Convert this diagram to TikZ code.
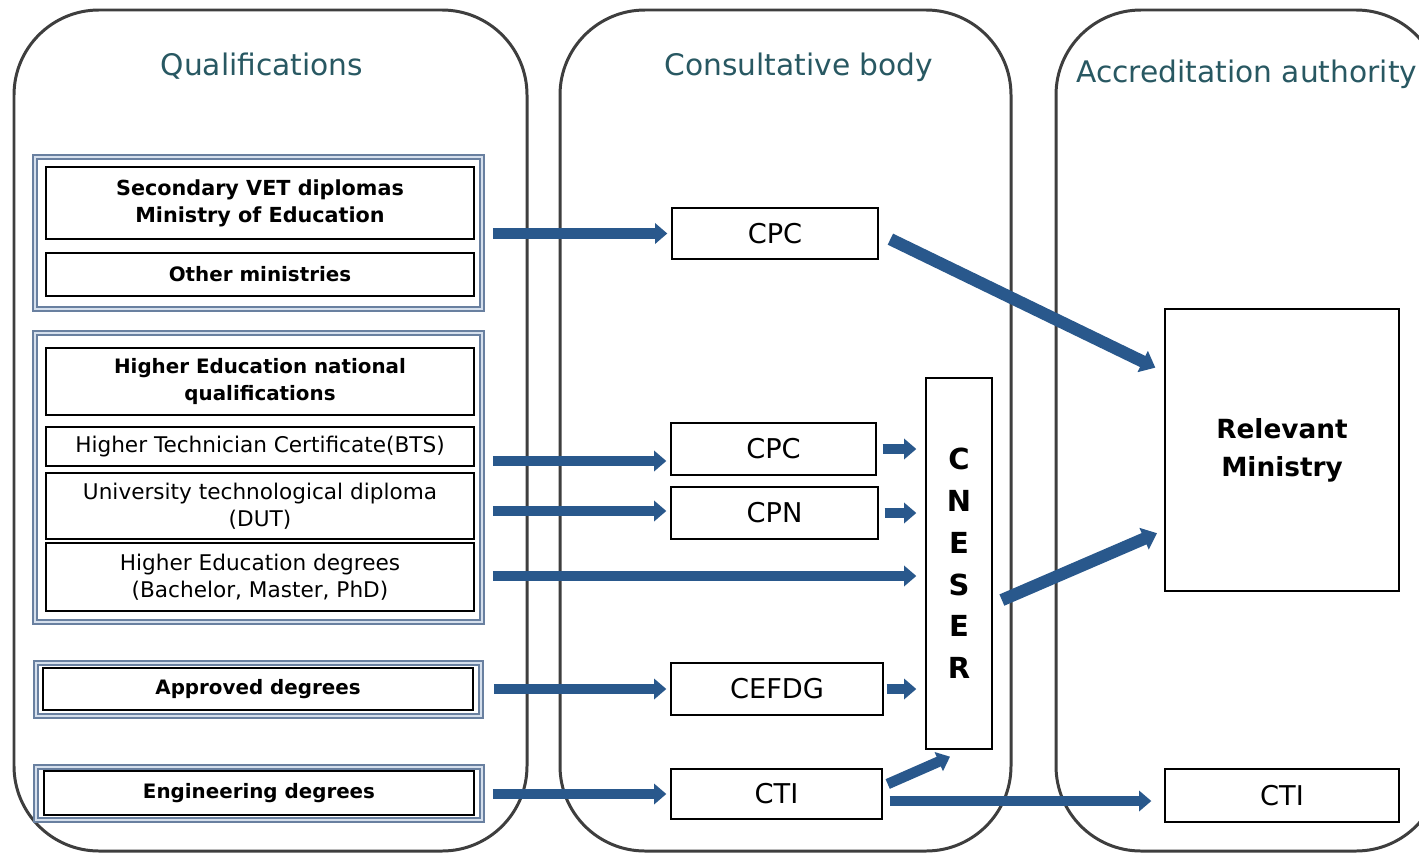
\documentclass[tikz,border=0pt]{standalone}
\usepackage{fontspec}
\setmainfont{DejaVu Sans}
\usepackage{xcolor}
\usepackage{tikz}
\usetikzlibrary{positioning, arrows.meta}
\usetikzlibrary{calc}
\definecolor{panelgrey}{RGB}{62,62,62}
\definecolor{headteal}{RGB}{40,88,98}
\definecolor{grpblue}{RGB}{105,128,160}
\definecolor{grplight}{RGB}{214,224,237}
\definecolor{arrowblue}{RGB}{41,88,140}
\tikzstyle{panel} = [draw=panelgrey, line width=1.7pt, rounded corners=1.7cm]
\tikzstyle{heading} = [inner sep=0pt, text=headteal, font=\fontsize{16.9}{20}\selectfont]
\tikzstyle{grp} = [rectangle, draw=grpblue, double=grplight, double distance=1.2pt, line width=0.9pt, fill=white]
\tikzstyle{qualb} = [rectangle, draw=black, line width=0.8pt, fill=white, minimum width=8.56cm, align=center, font=\bfseries\fontsize{11.3}{15.3}\selectfont]
\tikzstyle{qualr} = [rectangle, draw=black, line width=0.8pt, fill=white, minimum width=8.56cm, align=center, font=\fontsize{12.3}{15.3}\selectfont]
\tikzstyle{body} = [rectangle, draw=black, line width=0.8pt, fill=white, font=\fontsize{15.5}{18}\selectfont]
\tikzstyle{arrow} = [line width=6pt, draw=arrowblue, -{Triangle[width=11.5pt,length=7pt]}, shorten <=0.2cm, shorten >=0.08cm]
\tikzstyle{slant} = [arrow, line width=7pt, -{Triangle[width=13pt,length=8pt]}]

\begin{document}
\begin{tikzpicture}[x=0.02cm, y=-0.02cm]
	\useasboundingbox (0,0) rectangle (1419,852);
	\clip (0,0) rectangle (1419,852);
	\fill [white] (0,0) rectangle (1419,852);
	% the three columns
	\draw [panel] (14,10) rectangle (527,851);
	\draw [panel] (560,10) rectangle (1011,851);
	\draw [panel] (1056,10) rectangle (1441,851);
	\node (tqual) [heading, anchor=base] at (262,75) {Qualifications};
	\node (tcons) [heading, anchor=base] at (799,75) {Consultative body};
	\node (taccr) [heading, anchor=base west] at (1076,82) {Accreditation authority};
	% qualifications
	\node (grpA) [grp, minimum width=8.94cm, minimum height=3.04cm] at (258.5,233) {};
	\node (secvet) [qualb, minimum height=1.44cm, font=\bfseries\fontsize{11.8}{15.3}\selectfont] at (260,203) {Secondary VET diplomas\\Ministry of Education};
	\node (othmin) [qualb, minimum height=0.86cm] at (260,274.5) {Other ministries};
	\node (grpB) [grp, minimum width=8.94cm, minimum height=5.78cm] at (258.5,477.5) {};
	\node (henat) [qualb, minimum height=1.34cm] at (260,381.5) {Higher Education national\\qualifications};
	\node (bts) [qualr, minimum height=0.78cm] at (260,446.5) {Higher Technician Certificate(BTS)};
	\node (dut) [qualr, minimum height=1.32cm] at (260,506) {University technological diploma\\(DUT)};
	\node (hedeg) [qualr, minimum height=1.36cm] at (260,577) {Higher Education degrees\\(Bachelor, Master, PhD)};
	\node (grpC) [grp, minimum width=8.9cm, minimum height=1.06cm] at (258.5,689.5) {};
	\node (apprdeg) [qualb, minimum width=8.6cm, minimum height=0.84cm] at (258,689) {Approved degrees};
	\node (grpD) [grp, minimum width=8.92cm, minimum height=1.06cm] at (259,793.5) {};
	\node (engdeg) [qualb, minimum width=8.6cm, minimum height=0.88cm] at (259,793) {Engineering degrees};
	% consultative bodies
	\node (cpc1) [body, minimum width=4.12cm, minimum height=1.02cm] at (775,233.5) {CPC};
	\node (cpc2) [body, minimum width=4.1cm, minimum height=1.04cm] at (773.5,449) {CPC};
	\node (cpn) [body, minimum width=4.14cm, minimum height=1.04cm] at (774.5,513) {CPN};
	\node (cefdg) [body, minimum width=4.24cm, minimum height=1.04cm] at (777,689) {CEFDG};
	\node (ctim) [body, minimum width=4.22cm, minimum height=1cm] at (776.5,794) {CTI};
	\node (cneser) [body, minimum width=1.32cm, minimum height=7.42cm, align=center, font=\bfseries\fontsize{16.5}{23.8}\selectfont] at (959,563.5) {C\\N\\E\\S\\E\\R};
	% accreditation authority
	\node (relmin) [body, minimum width=4.68cm, minimum height=5.64cm, align=center, font=\bfseries\fontsize{15}{21.5}\selectfont] at (1282,450) {Relevant\\Ministry};
	\node (ctir) [body, minimum width=4.68cm, minimum height=1.06cm] at (1282,795.5) {CTI};
	% arrows
	\draw [arrow] (grpA.east |- cpc1.west) -- (cpc1.west);
	\draw [arrow] (grpB.east |- 0,461) -- (cpc2.west |- 0,461);
	\draw [arrow] (grpB.east |- 0,511) -- (cpn.west |- 0,511);
	\draw [arrow, shorten >=0.18cm] (grpB.east |- 0,576) -- (cneser.west |- 0,576);
	\draw [arrow, shorten <=0.24cm] (grpC.east |- cefdg.west) -- (cefdg.west);
	\draw [arrow] (grpD.east |- ctim.west) -- (ctim.west);
	\draw [arrow, shorten <=0.12cm, shorten >=0.18cm] (cpc2.east) -- (cneser.west |- cpc2.east);
	\draw [arrow, shorten <=0.12cm, shorten >=0.18cm] (cpn.east) -- (cneser.west |- cpn.east);
	\draw [arrow, shorten <=0.06cm, shorten >=0.18cm] (cefdg.east) -- (cneser.west |- cefdg.east);
	\draw [arrow, shorten <=0cm, shorten >=0cm] ($(ctim.east)+(5,-10)$) -- ($(cneser.south)+(-9,7)$);
	\draw [arrow, shorten <=0.14cm, shorten >=0.26cm] (ctim.east |- 0,801) -- (ctir.west |- 0,801);
	\draw [slant, shorten <=0.26cm, shorten >=0.2cm] (cpc1.east) -- (relmin.west |- 0,372);
	\draw [slant, shorten <=0.2cm, shorten >=0.16cm] (cneser.east |- 0,604) -- (relmin.west |- 0,530);
\end{tikzpicture}
\end{document}
